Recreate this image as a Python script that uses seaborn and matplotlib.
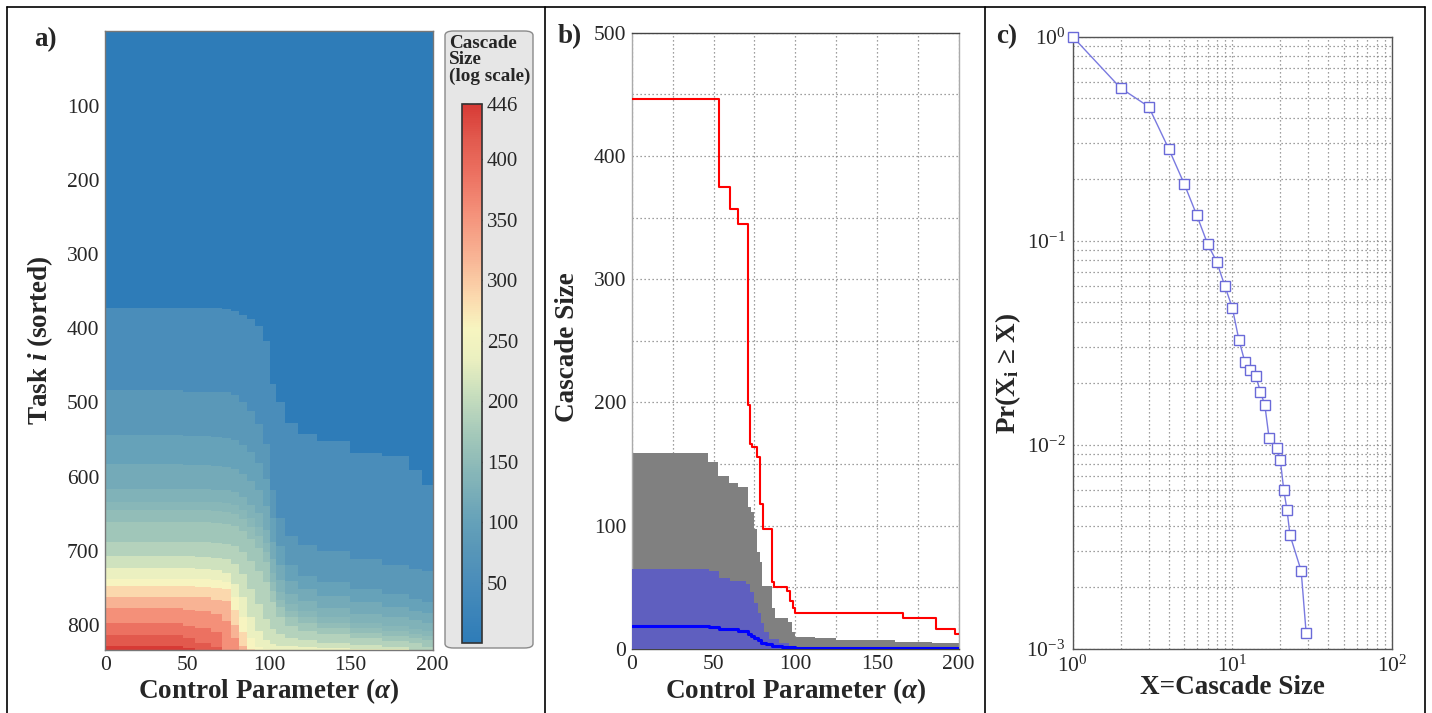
import numpy as np
import matplotlib
matplotlib.use("Agg")
import matplotlib.pyplot as plt
from matplotlib.colors import LinearSegmentedColormap
from matplotlib.patches import FancyBboxPatch
from matplotlib.lines import Line2D
import seaborn as sns

# ---------------- data: panel a (sorted cascade sizes per task) ----------------
n_tasks = 834
alpha_values = list(range(0, 201))
alpha_knots = [0, 48, 55, 65, 72, 77, 82, 87, 92, 97, 101, 105, 110, 118, 130, 150, 170, 186, 194]
size_levels = [2, 3, 4, 5, 6, 7, 8, 10, 13, 18, 25, 35, 50, 80, 130, 200, 300, 446]
# first sorted task index whose cascade size reaches each level, at each alpha knot
start_s2 = [373, 373, 373, 373, 374, 377, 383, 388, 398, 418, 476, 500, 528, 543, 553, 568, 573, 592, 612]
start_s3 = [484, 486, 486, 486, 487, 490, 500, 512, 530, 556, 618, 656, 680, 693, 701, 712, 719, 725, 728]
start_s4 = [544, 546, 546, 547, 548, 551, 558, 567, 582, 604, 656, 694, 720, 734, 743, 752, 758, 765, 770]
start_s5 = [584, 585, 585, 586, 587, 590, 597, 606, 618, 640, 688, 720, 741, 752, 761, 770, 776, 781, 784]
start_s6 = [617, 617, 617, 618, 619, 621, 628, 638, 650, 672, 712, 740, 759, 768, 778, 786, 790, 794, 798]
start_s7 = [634, 634, 634, 635, 636, 639, 646, 656, 668, 690, 730, 756, 772, 781, 790, 797, 802, 806, 809]
start_s8 = [646, 646, 646, 647, 648, 651, 658, 668, 680, 702, 742, 766, 781, 790, 798, 805, 809, 812, 815]
start_s10 = [662, 662, 662, 663, 664, 667, 674, 684, 697, 716, 754, 776, 790, 798, 805, 811, 815, 818, 821]
start_s13 = [688, 688, 689, 690, 691, 694, 702, 714, 728, 742, 770, 790, 802, 808, 813, 818, 822, 825, 830]
start_s18 = [708, 708, 709, 710, 712, 718, 732, 752, 772, 792, 806, 812, 818, 821, 824, 827, 830, 834, 834]
start_s25 = [724, 724, 725, 726, 730, 745, 762, 790, 808, 820, 826, 828, 829, 830, 831, 832, 833, 834, 834]
start_s35 = [738, 738, 739, 740, 742, 762, 790, 818, 830, 833, 834, 834, 834, 834, 834, 834, 834, 834, 834]
start_s50 = [748, 748, 749, 751, 752, 780, 810, 833, 834, 834, 834, 834, 834, 834, 834, 834, 834, 834, 834]
start_s80 = [762, 762, 763, 766, 768, 800, 828, 834, 834, 834, 834, 834, 834, 834, 834, 834, 834, 834, 834]
start_s130 = [778, 780, 782, 786, 795, 818, 834, 834, 834, 834, 834, 834, 834, 834, 834, 834, 834, 834, 834]
start_s200 = [798, 802, 805, 810, 834, 834, 834, 834, 834, 834, 834, 834, 834, 834, 834, 834, 834, 834, 834]
start_s300 = [814, 818, 824, 830, 834, 834, 834, 834, 834, 834, 834, 834, 834, 834, 834, 834, 834, 834, 834]
start_s446 = [829, 831, 834, 834, 834, 834, 834, 834, 834, 834, 834, 834, 834, 834, 834, 834, 834, 834, 834]
level_starts = [start_s2, start_s3, start_s4, start_s5, start_s6, start_s7, start_s8, start_s10,
                start_s13, start_s18, start_s25, start_s35, start_s50, start_s80, start_s130,
                start_s200, start_s300, start_s446]
cbar_ticks = [50, 100, 150, 200, 250, 300, 350, 400, 446]

# ---------------- data: panel b ----------------
red_alpha = [0, 53.5, 60, 65, 71, 72.3, 73.3, 76.3, 78.4, 80, 86, 87, 95, 97, 98.5, 99.8, 166, 186, 198, 200]
red_val = [446, 375, 357, 345, 198, 166, 164, 156, 118, 97, 54, 50, 47, 39, 33, 29, 25, 16, 12, 12]
grey_alpha = [0, 46.7, 52.5, 59.4, 65.1, 70.8, 72.9, 74.9, 76.7, 78.2, 79.4, 85.5, 87.6, 95.7, 97.8, 99.8, 112, 125, 161, 184, 200]
grey_val = [159, 152, 140, 135, 131.5, 115, 111, 97, 78.5, 70.5, 51, 33, 25, 22, 14, 10, 8.7, 7.5, 6, 5, 5]
blue_alpha = [0, 47, 53, 60, 70, 72, 75, 77, 79, 81, 84, 90, 96, 100, 200]
blue_val = [65, 63, 57.5, 55.5, 53, 46, 37.5, 29, 21, 14, 8.5, 5, 2.7, 1.7, 1.7]
line_alpha = [0, 47, 53, 65, 71, 73, 75, 77, 79, 82, 86, 92, 100, 200]
line_val = [18.8, 17.5, 16.1, 14.7, 12.5, 10.5, 9.3, 7.2, 5.2, 3.8, 2.5, 1.8, 1, 1]

# ---------------- data: panel c ----------------
cs_x = [1, 2, 3, 4, 5, 6, 7, 8, 9, 10, 11, 12, 13, 14, 15, 16, 17, 19, 20, 21, 22, 23, 27, 29]
cs_p = [1.0, 0.559, 0.453, 0.282, 0.19, 0.133, 0.0966, 0.0786, 0.0597, 0.047, 0.0327, 0.0254,
        0.0231, 0.0218, 0.0182, 0.0156, 0.0108, 0.00964, 0.0084, 0.00602, 0.00481, 0.0036,
        0.00241, 0.0012]

# ---------------- style ----------------
sns.set_theme(style="white")
plt.rcParams["font.family"] = ["Liberation Serif", "DejaVu Serif"]
plt.rcParams["mathtext.fontset"] = "custom"
plt.rcParams["mathtext.it"] = "Liberation Serif:italic:bold"
plt.rcParams["mathtext.rm"] = "Liberation Serif"
plt.rcParams["mathtext.bf"] = "Liberation Serif:bold"

TICK = 15.5
LAB = 19.5
DOT = (0, (1, 2.2))

W, H = 1432, 713
fig = plt.figure(figsize=(W / 100, H / 100), dpi=100)
fig.patch.set_facecolor("white")


def fx(p):
    return p / W


def fy(p):
    return 1 - p / H


def box(l, t, r, b):
    return [fx(l), fy(b), fx(r) - fx(l), fy(t) - fy(b)]


ax_a = fig.add_axes(box(105, 31, 433, 650))
cax = fig.add_axes(box(462, 103.6, 481.5, 643))
ax_b = fig.add_axes(box(632, 32.6, 958.6, 649))
ax_c = fig.add_axes(box(1072.5, 36.5, 1392, 648.8))

# ---------------- panel a ----------------
nodes = [(1, "#2e7cb8"), (2, "#4a8dba"), (3, "#5a98b8"), (4, "#66a2b9"), (5, "#74aab8"),
         (6, "#80b2b8"), (7, "#88b7b8"), (8, "#92bdb8"), (10, "#a0c6b9"), (13, "#b4d2bc"),
         (18, "#cfe2be"), (25, "#ebf0c0"), (35, "#f7f5c0"), (50, "#fbd9ae"), (80, "#f8b394"),
         (130, "#f4917a"), (200, "#ec7262"), (300, "#e25a4e"), (446, "#d73a35")]
cmap = LinearSegmentedColormap.from_list(
    "cascade", [(np.log(s) / np.log(446), c) for s, c in nodes])

alphas = np.asarray(alpha_values)
knot_idx = np.searchsorted(alpha_knots, alphas, side="right") - 1
grid = np.ones((n_tasks, alphas.size))
for s, starts in zip(size_levels, level_starts):
    for j, k in enumerate(knot_idx):
        grid[starts[k]:, j] = s
color_val = 446 * np.log(grid) / np.log(446)

sns.heatmap(color_val, ax=ax_a, cmap=cmap, vmin=0, vmax=446, cbar_ax=cax,
            xticklabels=False, yticklabels=False, rasterized=True)
for sp in ax_a.spines.values():
    sp.set_visible(True)
    sp.set_color("#777777")
    sp.set_linewidth(1.0)
xt = np.arange(0, 201, 25)
ax_a.set_xticks(xt + 0.5)
ax_a.set_xticklabels([str(v) if v % 50 == 0 else "" for v in xt], fontsize=TICK)
yt = np.arange(100, 801, 100)
ax_a.set_yticks(yt + 0.5)
ax_a.set_yticklabels([str(v) for v in yt], fontsize=TICK, rotation=0)
ax_a.tick_params(axis="both", which="major", direction="in", length=5, width=1,
                 color="#333333", top=True, right=True, bottom=True, left=True, pad=4)
ax_a.set_xlabel(r"Control Parameter ($\alpha$)", fontsize=LAB, fontweight="bold")
ax_a.set_ylabel(r"Task $i$ (sorted)", fontsize=LAB, fontweight="bold")
ax_a.xaxis.set_label_coords(0.5, -0.043)
ax_a.yaxis.set_label_coords(-0.152, 0.5)

cb = ax_a.collections[0].colorbar
cb.outline.set_linewidth(1.2)
cb.outline.set_edgecolor("#333333")
cb.set_ticks(cbar_ticks)
cb.set_ticklabels([str(t) for t in cbar_ticks])
cax.tick_params(labelsize=15, direction="in", length=4, width=1, color="#333333",
                left=True, right=True, labelleft=False, labelright=True, pad=4)

bg = FancyBboxPatch((fx(445), fy(648)), fx(533) - fx(445), fy(31) - fy(648),
                    boxstyle="round,pad=0,rounding_size=0.006", transform=fig.transFigure,
                    facecolor="#e6e6e6", edgecolor="#8a8a8a", linewidth=1.0, zorder=-1)
fig.patches.append(bg)
fig.text(fx(449), fy(35), "Cascade\nSize\n(log scale)", ha="left", va="top",
         fontsize=13.8, fontweight="bold", linespacing=0.95)

# ---------------- panel b ----------------
ax_b.set_axisbelow(True)
ax_b.fill_between(grey_alpha, grey_val, step="post", color="#808080", linewidth=0, zorder=2)
ax_b.fill_between(blue_alpha, blue_val, step="post", color="#5f5fbf", linewidth=0, zorder=3)
sns.lineplot(x=red_alpha, y=red_val, drawstyle="steps-post", color="#ff0000", linewidth=1.5,
             ax=ax_b, zorder=4)
sns.lineplot(x=line_alpha, y=line_val, drawstyle="steps-post", color="#0000ff", linewidth=2.2,
             ax=ax_b, zorder=5)
ax_b.set_xlim(0, 200)
ax_b.set_ylim(0, 500)
ax_b.set_xticks(range(0, 201, 50))
ax_b.set_xticks(range(0, 201, 25), minor=True)
ax_b.set_yticks(range(0, 501, 100))
ax_b.set_yticks(range(0, 501, 50), minor=True)
ax_b.tick_params(axis="both", which="major", labelsize=TICK, direction="in", length=4,
                 color="#333333", pad=4)
ax_b.tick_params(axis="both", which="minor", length=0)
ax_b.grid(True, which="both", linestyle=DOT, color="#808080", linewidth=0.9)
for name, sp in ax_b.spines.items():
    sp.set_visible(True)
    sp.set_linewidth(1.0)
    sp.set_color("#aaaaaa" if name in ("left", "right") else "#444444")
ax_b.set_xlabel(r"Control Parameter ($\alpha$)", fontsize=LAB, fontweight="bold")
ax_b.set_ylabel("Cascade Size", fontsize=LAB, fontweight="bold")
ax_b.xaxis.set_label_coords(0.5, -0.044)
ax_b.yaxis.set_label_coords(-0.159, 0.49)

# ---------------- panel c ----------------
sns.lineplot(x=cs_x, y=cs_p, ax=ax_c, color="#7a7ae0", linewidth=1.0, marker="s",
             markersize=6.5, markerfacecolor="white", markeredgecolor="#6a6ad8",
             markeredgewidth=1.0, clip_on=False, zorder=4)
ax_c.set_xscale("log")
ax_c.set_yscale("log")
ax_c.set_xlim(1, 100)
ax_c.set_ylim(1e-3, 1)
ax_c.grid(True, which="both", linestyle=DOT, color="#808080", linewidth=0.9)
ax_c.set_axisbelow(True)
ax_c.tick_params(axis="both", which="major", labelsize=TICK, direction="in", length=4,
                 color="#333333", pad=5)
ax_c.tick_params(axis="both", which="minor", direction="in", length=2, color="#333333")
for sp in ax_c.spines.values():
    sp.set_visible(True)
    sp.set_linewidth(1.0)
    sp.set_color("#555555")
ax_c.set_xlabel("X=Cascade Size", fontsize=LAB, fontweight="bold")
ax_c.set_ylabel(r"Pr(X$_{\mathbf{i}}$ ≥ X)", fontsize=LAB, fontweight="bold")
ax_c.xaxis.set_label_coords(0.5, -0.043)
ax_c.yaxis.set_label_coords(-0.155, 0.45)

# ---------------- panel labels and frames ----------------
fig.text(fx(34), fy(40), "a)", ha="left", va="center", fontsize=19.5, fontweight="bold")
fig.text(fx(558), fy(37), "b)", ha="left", va="center", fontsize=19.5, fontweight="bold")
fig.text(fx(996), fy(37), "c)", ha="left", va="center", fontsize=19.5, fontweight="bold")

for x in (7, 545, 985, 1425):
    fig.add_artist(Line2D([fx(x), fx(x)], [fy(7), fy(713)], transform=fig.transFigure,
                          color="black", linewidth=1.2))
fig.add_artist(Line2D([fx(7), fx(1425)], [fy(7), fy(7)], transform=fig.transFigure,
                      color="black", linewidth=1.2))

fig.savefig("out.png", dpi=100, facecolor="white")
